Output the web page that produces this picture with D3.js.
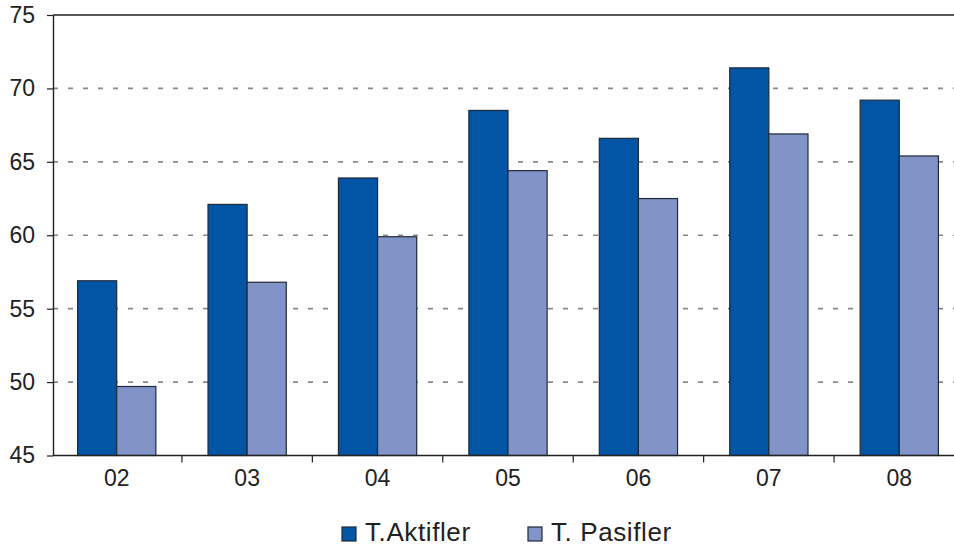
<!DOCTYPE html>
<html><head><meta charset="utf-8">
<script src="https://cdn.jsdelivr.net/npm/d3@7"></script>
<style>body{margin:0;background:#fff}svg{display:block}</style>
</head><body>
<svg id="c" width="954" height="546"></svg>
<script>
const categories = ["02","03","04","05","06","07","08"];
const seriesNames = ["T.Aktifler","T. Pasifler"];
const aktifler = [56.9, 62.1, 63.9, 68.5, 66.6, 71.4, 69.2];
const pasifler = [49.7, 56.8, 59.9, 64.4, 62.5, 66.9, 65.4];
const yTicks = [45, 50, 55, 60, 65, 70, 75];
const colors = ["#0254A5", "#8293C8"];

(function () {
const svg = d3.select("#c");
const axisX = 53, mTop = 15, mBottom = 455.5;
const font = "'Liberation Sans', Arial, Helvetica, sans-serif";

const x = d3.scaleBand().domain(categories).range([51.5, 964.5]).paddingInner(0).paddingOuter(0);
const bw = x.bandwidth();
const xs = d3.scaleBand().domain([0,1]).range([bw * 0.2, bw * 0.8]).paddingInner(0).paddingOuter(0);
const y = d3.scaleLinear().domain([45, 75]).range([mBottom, mTop]);

// gridlines
svg.append("g").selectAll("line").data(yTicks.filter(t => t > 45 && t < 75)).join("line")
  .attr("x1", axisX).attr("x2", 954).attr("y1", d => y(d)).attr("y2", d => y(d))
  .attr("stroke", "#8a8a8a").attr("stroke-width", 1.6).attr("stroke-dasharray", "5,10");

// top border
svg.append("line").attr("x1", axisX).attr("x2", 954).attr("y1", y(75)).attr("y2", y(75))
  .attr("stroke", "#222").attr("stroke-width", 1.4);

// bars
const series = [aktifler, pasifler];
series.forEach((vals, si) => {
  svg.append("g").selectAll("rect").data(vals).join("rect")
    .attr("x", (d, i) => x(categories[i]) + xs(si))
    .attr("width", xs.bandwidth())
    .attr("y", d => y(d))
    .attr("height", d => y(45) - y(d))
    .attr("fill", colors[si])
    .attr("stroke", "#1f2a3a").attr("stroke-width", 1.2);
});

// y axis
const yAxis = d3.axisLeft(y).tickValues(yTicks).tickSize(6).tickSizeOuter(0).tickPadding(12);
const gy = svg.append("g").attr("transform", `translate(${axisX},0)`).call(yAxis);
gy.select(".domain").attr("stroke", "#222").attr("stroke-width", 1.4);
gy.selectAll(".tick line").attr("stroke", "#222").attr("stroke-width", 1.2);
gy.selectAll(".tick text").attr("font-family", font).attr("font-size", 23).attr("fill", "#222");

// x axis
const xAxis = d3.axisBottom(x).tickSize(0).tickPadding(14);
const gx = svg.append("g").attr("transform", `translate(0,${mBottom})`).call(xAxis);
gx.select(".domain").remove();
gx.append("line").attr("x1", axisX).attr("x2", 954).attr("y1", 0).attr("y2", 0)
  .attr("stroke", "#222").attr("stroke-width", 1.4);
gx.selectAll(".tick text").attr("font-family", font).attr("font-size", 23).attr("fill", "#222");
gx.append("g").selectAll("line").data(categories.slice(1)).join("line")
  .attr("x1", d => x(d)).attr("x2", d => x(d)).attr("y1", 0).attr("y2", 7)
  .attr("stroke", "#222").attr("stroke-width", 1.2);

// legend
const legendX = [342, 528];
const lg = svg.append("g");
seriesNames.forEach((n, i) => {
  lg.append("rect").attr("x", legendX[i]).attr("y", 527).attr("width", 14).attr("height", 14)
    .attr("fill", colors[i]).attr("stroke", "#1f2a3a").attr("stroke-width", 1.2);
  lg.append("text").attr("x", legendX[i] + 23).attr("y", 541).text(n)
    .attr("font-family", font).attr("font-size", 26).attr("letter-spacing", 0.6).attr("fill", "#222");
});
})();
</script>
</body></html>
